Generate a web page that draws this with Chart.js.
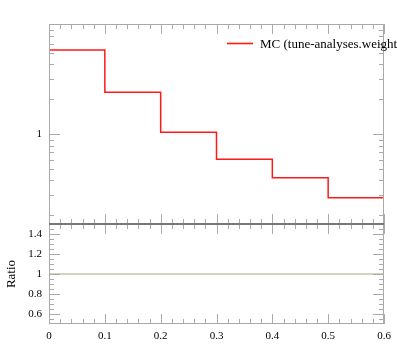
<!DOCTYPE html>
<html>
<head>
<meta charset="utf-8">
<script src="https://cdn.jsdelivr.net/npm/chart.js@4/dist/chart.umd.min.js"></script>
<style>
  html, body { margin: 0; padding: 0; background: #fff; }
  #wrap { position: relative; width: 397px; height: 358px; overflow: hidden; }
  canvas { position: absolute; left: 0; }
  #main { top: 0; }
  #ratio { top: 208px; }
</style>
</head>
<body>
<div id="wrap">
  <canvas id="main" width="397" height="240"></canvas>
  <canvas id="ratio" width="397" height="150"></canvas>
</div>
<script>
// Histogram with ratio panel underneath. Bin edges + per-bin values, drawn as steps.
const binEdges = [0, 0.1, 0.2, 0.3, 0.4, 0.5, 0.6];
const mcValues = [5.33, 2.30, 1.04, 0.609, 0.422, 0.284];
const ratioValues = [1, 1, 1, 1, 1, 1];
const seriesLabel = "MC (tune-analyses.weight";

const xLabels = [0, 0.1, 0.2, 0.3, 0.4, 0.5, 0.6];
const xMinor = [0.02, 0.04, 0.06, 0.08, 0.12, 0.14, 0.16, 0.18, 0.22, 0.24, 0.26, 0.28,
  0.32, 0.34, 0.36, 0.38, 0.42, 0.44, 0.46, 0.48, 0.52, 0.54, 0.56, 0.58];
const mainLabels = [1];
const mainMinor = [0.2, 0.3, 0.4, 0.5, 0.6, 0.7, 0.8, 0.9, 2, 3, 4, 5, 6, 7, 8];
const ratioLabels = [0.6, 0.8, 1, 1.2, 1.4];
const ratioMinor = [0.55, 0.65, 0.7, 0.75, 0.85, 0.9, 0.95, 1.05, 1.1, 1.15, 1.25, 1.3, 1.35, 1.45];

const FONT = "'Liberation Serif', 'DejaVu Serif', serif";
const FRAME = "#aaa";
const MC_COLOR = "rgba(255,0,0,0.9)";
const RATIO_COLOR = "#a8a878";

// histogram steps: one point per left edge, plus the closing right edge
function steps(values) {
  const pts = values.map((v, i) => ({ x: binEdges[i], y: v }));
  pts.push({ x: binEdges[binEdges.length - 1], y: values[values.length - 1] });
  return pts;
}

// frame + inward ticks on all four sides
const frame = {
  id: "frame",
  afterDatasetsDraw(chart, args, o) {
    const { ctx, chartArea: a, scales } = chart;
    const line = (x1, y1, x2, y2) => { ctx.beginPath(); ctx.moveTo(x1, y1); ctx.lineTo(x2, y2); ctx.stroke(); };
    const px = (v) => Math.round(scales.x.getPixelForValue(v)) + 0.5;
    const py = (v) => Math.round(scales.y.getPixelForValue(v)) + 0.5;
    ctx.save();
    ctx.lineWidth = 1;
    ctx.strokeStyle = FRAME;
    xMinor.forEach((v) => { const x = px(v); line(x, a.top, x, a.top + 5); line(x, a.bottom, x, a.bottom - 5); });
    xLabels.forEach((v) => { const x = px(v); line(x, a.top, x, a.top + 10); line(x, a.bottom, x, a.bottom - 10); });
    o.yMinor.forEach((v) => { const y = py(v); line(a.left, y, a.left + 5, y); line(a.right, y, a.right - 5, y); });
    o.yMajor.forEach((v) => { const y = py(v); line(a.left, y, a.left + 11, y); line(a.right, y, a.right - 11, y); });
    ctx.strokeRect(Math.round(a.left) + 0.5, Math.round(a.top) + 0.5, Math.round(a.right - a.left) - 1, Math.round(a.bottom - a.top) - 1);
    // the shared edge between the two panels is darker
    ctx.strokeStyle = "#777";
    const ey = o.darkEdge === "bottom" ? Math.round(a.bottom) - 0.5 : Math.round(a.top) + 0.5;
    line(a.left, ey, a.right, ey);
    if (o.legend) {
      const ly = a.top + 19.5;
      ctx.strokeStyle = MC_COLOR;
      ctx.lineWidth = 1.6;
      line(a.right - 157, ly, a.right - 131, ly);
      ctx.fillStyle = "#000";
      ctx.font = "13px " + FONT;
      ctx.textBaseline = "middle";
      ctx.fillText(chart.data.datasets[0].label, a.right - 124, ly + 1);
    }
    ctx.restore();
  },
};

const tickFont = { family: FONT, size: 11 };

function yAxis(type, min, max, labels, extra) {
  return Object.assign({
    type, min, max,
    afterFit: (s) => { s.width = 49; },
    afterBuildTicks: (s) => { s.ticks = labels.map((v) => ({ value: v })); },
    grid: { display: false, drawTicks: false },
    border: { display: false },
    ticks: { color: "#000", font: tickFont, padding: 7, autoSkip: false, callback: (v) => String(v) },
  }, extra || {});
}

new Chart(document.getElementById("main"), {
  type: "line",
  data: {
    datasets: [{
      label: seriesLabel,
      data: steps(mcValues),
      stepped: "before",
      borderColor: MC_COLOR,
      borderWidth: 1.5,
      pointRadius: 0,
      fill: false,
    }],
  },
  options: {
    responsive: false,
    animation: false,
    devicePixelRatio: 1,
    layout: { padding: { top: 24, right: 13, bottom: 16, left: 0 } },
    plugins: {
      legend: { display: false },
      tooltip: { enabled: false },
      frame: { yMajor: mainLabels, yMinor: mainMinor, darkEdge: "bottom", legend: true },
    },
    scales: {
      x: { type: "linear", min: 0, max: 0.6, display: false },
      y: yAxis("logarithmic", 0.1686, 8.93, mainLabels),
    },
  },
  plugins: [frame],
});

new Chart(document.getElementById("ratio"), {
  type: "line",
  data: {
    datasets: [{
      label: "Ratio",
      data: steps(ratioValues),
      stepped: "before",
      borderColor: RATIO_COLOR,
      borderWidth: 1.2,
      pointRadius: 0,
      fill: false,
    }],
  },
  options: {
    responsive: false,
    animation: false,
    devicePixelRatio: 1,
    layout: { padding: { top: 16, right: 13, bottom: 0, left: 0 } },
    plugins: {
      legend: { display: false },
      tooltip: { enabled: false },
      frame: { yMajor: ratioLabels, yMinor: ratioMinor, darkEdge: "top" },
    },
    scales: {
      x: {
        type: "linear", min: 0, max: 0.6,
        afterFit: (s) => { s.height = 34; },
        afterBuildTicks: (s) => { s.ticks = xLabels.map((v) => ({ value: v })); },
        grid: { display: false, drawTicks: false },
        border: { display: false },
        ticks: { color: "#000", font: tickFont, padding: 6, maxRotation: 0, autoSkip: false, callback: (v) => String(v) },
      },
      y: yAxis("linear", 0.5, 1.5, ratioLabels, {
        title: { display: true, text: "Ratio", color: "#000", font: { family: FONT, size: 13 }, padding: { top: 4, bottom: 0 } },
      }),
    },
  },
  plugins: [frame],
});
</script>
</body>
</html>
